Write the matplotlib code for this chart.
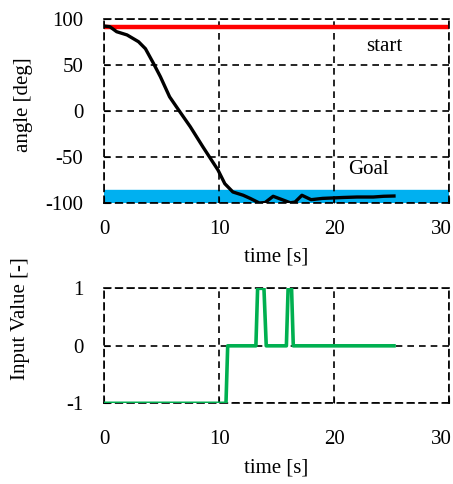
import matplotlib
matplotlib.use("Agg")
import matplotlib.pyplot as plt
from matplotlib.transforms import ScaledTranslation

plt.rcParams["font.family"] = ["Liberation Serif", "DejaVu Serif"]
plt.rcParams["axes.unicode_minus"] = False

# angle trajectory
t_angle = [0, 0.5, 1.1, 2.0, 3.0, 3.6, 4.3, 4.9, 5.7, 6.5, 7.5, 8.6, 9.9, 10.5,
           11.2, 12.1, 12.7, 13.5, 14.0, 14.7, 15.4, 16.2, 16.6, 17.2, 18.0,
           19.0, 20.8, 22.0, 23.4, 24.3, 25.2]
angle = [92.7, 92, 86.5, 83, 75.6, 68, 52, 37.5, 15.6, 1, -17, -39, -64, -79,
         -88, -91.6, -95, -100, -99.5, -92.7, -96, -99.8, -99, -91.6, -96.4,
         -95, -94, -93.5, -93.5, -92.7, -92.4]
start_angle = 92
goal_low, goal_high = -100, -86

# input signal
t_input = [0, 10.6, 10.75, 13.2, 13.35, 13.9, 14.1, 15.85, 16.0, 16.3, 16.45, 25.2]
u_input = [-1, -1, 0, 0, 1, 1, 0, 0, 1, 1, 0, 0]

x_ticks = [0, 10, 20, 30]
angle_ticks = [-100, -50, 0, 50, 100]
input_ticks = [-1, 0, 1]

FS = 15

fig = plt.figure(figsize=(4.53, 4.84), dpi=100)
ax1 = fig.add_axes([0.2296, 0.5806, 0.762, 0.3795])
ax2 = fig.add_axes([0.2296, 0.1667, 0.762, 0.2376])


def style(ax, xpad):
    ax.grid(True, color="black", linestyle=(0, (4, 3)), linewidth=1.2)
    for s in ax.spines.values():
        s.set_linestyle((0, (4, 3)))
        s.set_linewidth(1.2)
    ax.tick_params(direction="in", length=4, labelsize=FS)
    ax.tick_params(axis="x", pad=xpad)
    ax.tick_params(axis="y", pad=15)
    ax.set_xlim(0, 30)
    ax.set_xticks(x_ticks)
    # last label sits a little left of its tick, as in the original
    last = ax.get_xticklabels()[-1]
    last.set_transform(last.get_transform() + ScaledTranslation(-8 / 100, 0, fig.dpi_scale_trans))
    ax.set_xlabel("time [s]", fontsize=FS)


ax1.axhspan(goal_low, goal_high, color="#00b0f0", zorder=1)
ax1.axhline(start_angle, color="#ff0000", linewidth=3.2, zorder=2)
ax1.plot(t_angle, angle, color="black", linewidth=2.4, zorder=3)
ax1.text(24.35, 70, "start", fontsize=FS, ha="center", va="center")
ax1.text(23, -63, "Goal", fontsize=FS, ha="center", va="center")
ax1.set_ylim(-100, 100)
ax1.set_yticks(angle_ticks)
ax1.set_ylabel("angle [deg]", fontsize=FS)
style(ax1, 12)
ax1.yaxis.set_label_coords(-0.205, 0.533)
ax1.xaxis.set_label_coords(0.5, -0.24)

ax2.plot(t_input, u_input, color="#00b050", linewidth=2.6, zorder=3)
ax2.set_ylim(-1, 1)
ax2.set_yticks(input_ticks)
ax2.set_ylabel("Input Value [-]", fontsize=FS)
style(ax2, 19)
ax2.yaxis.set_label_coords(-0.215, 0.74)
ax2.xaxis.set_label_coords(0.5, -0.48)

fig.savefig("out.png", dpi=100)
